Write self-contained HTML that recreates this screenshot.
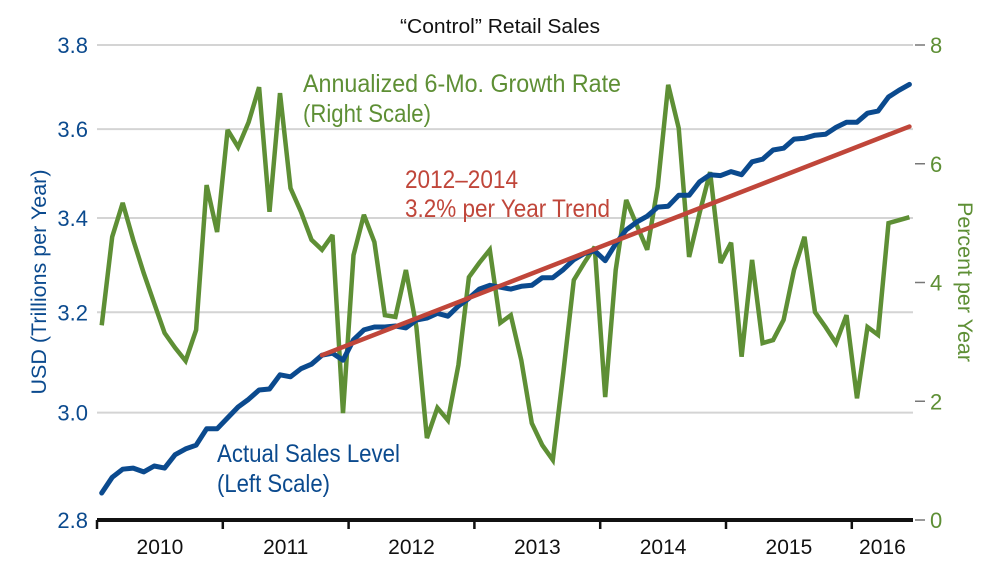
<!DOCTYPE html>
<html><head><meta charset="utf-8"><style>
html,body{margin:0;padding:0;background:#fff;}
svg{display:block;font-family:"Liberation Sans Narrow","Liberation Sans",sans-serif;}
</style></head><body>
<svg id="chart" width="1000" height="567" viewBox="0 0 1000 567" xmlns="http://www.w3.org/2000/svg">
<text x="500" y="33" text-anchor="middle" font-size="20" fill="#111" textLength="200" lengthAdjust="spacingAndGlyphs">“Control” Retail Sales</text>
<g id="grid"></g>
<g id="leftAxis"></g>
<g id="rightAxis"></g>
<g id="xAxis"></g>
<text transform="translate(46,282) rotate(-90)" text-anchor="middle" font-size="21" fill="#0b4a8e" textLength="225" lengthAdjust="spacingAndGlyphs">USD (Trillions per Year)</text>
<text transform="translate(958,282) rotate(90)" text-anchor="middle" font-size="21" fill="#5e8f35" textLength="160" lengthAdjust="spacingAndGlyphs">Percent per Year</text>
<g id="series"></g>
<text x="303" y="92" font-size="25" fill="#5e8f35" textLength="318" lengthAdjust="spacingAndGlyphs">Annualized 6-Mo. Growth Rate</text>
<text x="303" y="122" font-size="25" fill="#5e8f35" textLength="128" lengthAdjust="spacingAndGlyphs">(Right Scale)</text>
<text x="405" y="188" font-size="25" fill="#c0463a" textLength="113" lengthAdjust="spacingAndGlyphs">2012–2014</text>
<text x="405" y="217" font-size="25" fill="#c0463a" textLength="205" lengthAdjust="spacingAndGlyphs">3.2% per Year Trend</text>
<text x="217" y="462" font-size="25" fill="#0b4a8e" textLength="183" lengthAdjust="spacingAndGlyphs">Actual Sales Level</text>
<text x="217" y="492" font-size="25" fill="#0b4a8e" textLength="113" lengthAdjust="spacingAndGlyphs">(Left Scale)</text>
</svg>
<script>
const years = ["2010","2011","2012","2013","2014","2015","2016"];
const leftTicks = [2.8, 3.0, 3.2, 3.4, 3.6, 3.8];
const rightTicks = [0, 2, 4, 6, 8];
const salesLevel = [2.849,2.878,2.893,2.895,2.888,2.899,2.895,2.920,2.931,2.938,2.969,2.969,2.990,3.011,3.026,3.044,3.046,3.074,3.070,3.086,3.095,3.113,3.117,3.103,3.144,3.164,3.170,3.170,3.172,3.168,3.184,3.188,3.198,3.192,3.213,3.229,3.248,3.256,3.252,3.248,3.254,3.256,3.272,3.272,3.289,3.310,3.323,3.329,3.308,3.344,3.374,3.391,3.404,3.424,3.426,3.450,3.450,3.480,3.496,3.494,3.503,3.496,3.525,3.531,3.552,3.556,3.577,3.579,3.586,3.588,3.604,3.616,3.616,3.637,3.642,3.675,3.691,3.705];
const growthRate = [3.28,4.77,5.34,4.72,4.16,3.65,3.15,2.90,2.68,3.20,5.64,4.85,6.57,6.28,6.70,7.29,5.19,7.19,5.59,5.19,4.72,4.55,4.80,1.80,4.46,5.14,4.68,3.45,3.42,4.21,3.25,1.38,1.89,1.68,2.61,4.09,4.33,4.55,3.32,3.45,2.69,1.63,1.26,1.01,2.48,4.04,4.33,4.60,2.07,4.21,5.39,4.97,4.55,5.61,7.33,6.60,4.43,5.17,5.86,4.33,4.67,2.75,4.38,2.98,3.03,3.37,4.21,4.77,3.50,3.25,2.98,3.45,2.05,3.25,3.12,5.00,5.05,5.10];
const trendStartIndex = 21;
const trendEndIndex = 77;
const trendStartValue = 3.113;
const trendRate = 3.2;

const NS = "http://www.w3.org/2000/svg";
const X0 = 97, X1 = 913, YTOP = 45, YBOT = 520;
const xMonth = i => 101.7 + i * 10.49;
const yLeft = v => YBOT - (Math.log(v) - Math.log(2.8)) / (Math.log(3.8) - Math.log(2.8)) * (YBOT - YTOP);
const yRight = v => YBOT - v / 8 * (YBOT - YTOP);
function mk(tag, attrs, parent) { const e = document.createElementNS(NS, tag); for (const k in attrs) e.setAttribute(k, attrs[k]); parent.appendChild(e); return e; }

const grid = document.getElementById("grid");
const la = document.getElementById("leftAxis");
leftTicks.forEach(t => {
  const y = yLeft(t);
  if (t > 2.8) {
    const g = mk("line", {x1: X0, x2: X1, y1: y, y2: y, stroke: "#d4d4d4", "stroke-width": 2}, grid);
    
    
  }
  const tx = mk("text", {x: 88, y: y + 8, "text-anchor": "end", "font-size": 22, fill: "#0b4a8e"}, la);
  
  
  tx.textContent = t.toFixed(1);
});
const ra = document.getElementById("rightAxis");
rightTicks.forEach(t => {
  const y = yRight(t);
  const d = mk("line", {x1: 915, x2: 925, y1: y, y2: y, stroke: "#777", "stroke-width": 1.5}, ra);
  
  
  const tx = mk("text", {x: 930, y: y + 8, "font-size": 22, fill: "#5e8f35"}, ra);
  
  
  tx.textContent = String(t);
});
const xa = document.getElementById("xAxis");
const ax = mk("line", {x1: X0, x2: X1, y1: YBOT, y2: YBOT, stroke: "#111", "stroke-width": 4}, xa);


const yearW = 125.8;
years.forEach((yr, i) => {
  const tx0 = X0 + i * yearW;
  const tk = mk("line", {x1: tx0, x2: tx0, y1: YBOT, y2: YBOT + 9, stroke: "#111", "stroke-width": 2.5}, xa);
  
  
  const cx = i < years.length - 1 ? tx0 + yearW / 2 : (tx0 + X1) / 2;
  const lb = mk("text", {x: cx, y: 554, "text-anchor": "middle", "font-size": 21, fill: "#111"}, xa);
  
  
  lb.textContent = yr;
});

const s = document.getElementById("series");
const gp = mk("polyline", {points: growthRate.map((v, i) => xMonth(i).toFixed(1) + "," + yRight(v).toFixed(1)).join(" "), fill: "none", stroke: "#5e8f35", "stroke-width": 4.5, "stroke-linejoin": "miter", "stroke-miterlimit": 3}, s);


const sp = mk("polyline", {points: salesLevel.map((v, i) => xMonth(i).toFixed(1) + "," + yLeft(v).toFixed(1)).join(" "), fill: "none", stroke: "#0b4a8e", "stroke-width": 5, "stroke-linejoin": "round", "stroke-linecap": "round"}, s);


const trendEndValue = trendStartValue * Math.pow(1 + trendRate / 100, (trendEndIndex - trendStartIndex) / 12);
const tl = mk("line", {x1: xMonth(trendStartIndex), y1: yLeft(trendStartValue), x2: xMonth(trendEndIndex), y2: yLeft(trendEndValue), stroke: "#c0463a", "stroke-width": 4.5, "stroke-linecap": "round"}, s);


</script>
</body></html>
